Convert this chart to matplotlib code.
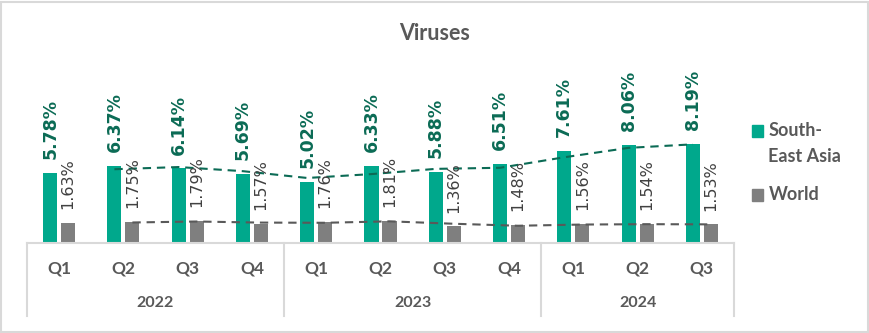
import numpy as np
from matplotlib import pyplot as plt
from matplotlib.patches import Rectangle
from matplotlib import transforms

quarters = ['Q1', 'Q2', 'Q3', 'Q4', 'Q1', 'Q2', 'Q3', 'Q4', 'Q1', 'Q2', 'Q3']
years = ['2022', '2023', '2024']
year_sizes = [4, 4, 3]
sea = [5.78, 6.37, 6.14, 5.69, 5.02, 6.33, 5.88, 6.51, 7.61, 8.06, 8.19]
world = [1.63, 1.75, 1.79, 1.57, 1.76, 1.81, 1.36, 1.48, 1.56, 1.54, 1.53]

sea_color = '#00A88C'
world_color = '#7F7F7F'
sea_text = '#0B6B55'
world_text = '#404040'
axis_text = '#595959'
grid_line = '#D9D9D9'


def moving_average(vals, n=2):
    """n-period moving average, starting at the n-th point"""
    return np.convolve(vals, np.ones(n) / n, mode='valid')


def main():
    W, H = 870, 333
    fig = plt.figure(figsize=(W / 100, H / 100), dpi=100)

    # plot area in pixel terms
    left, right, base, top = 27, 734, 243, 73
    ax = fig.add_axes([left / W, 1 - base / H, (right - left) / W, (base - top) / H])
    ax.set_xlim(-0.5, len(quarters) - 0.5)
    ax.set_ylim(0, 14)
    ax.axis('off')

    x = np.arange(len(quarters))
    bw, off = 0.218, 0.14
    ax.bar(x - off, sea, bw, color=sea_color, zorder=2)
    ax.bar(x + off, world, bw, color=world_color, zorder=2)

    # value labels, rotated above each bar
    for xi, v in zip(x - off, sea):
        ax.annotate(f'{v:.2f}%', (xi, v), xytext=(0, 10), textcoords='offset points',
                    rotation=90, ha='center', va='bottom', fontsize=12.5,
                    fontweight='bold', color=sea_text, family='DejaVu Sans', zorder=4)
    for xi, v in zip(x + off, world):
        ax.annotate(f'{v:.2f}%', (xi, v), xytext=(0, 10), textcoords='offset points',
                    rotation=90, ha='center', va='bottom', fontsize=11.5,
                    color=world_text, family='DejaVu Sans', zorder=4)

    # 2-period moving average trendlines
    ax.plot(x[1:] - off, moving_average(sea), color=sea_text, lw=1.5,
            dashes=(4, 2.8), zorder=3)
    ax.plot(x[1:] + off, moving_average(world), color='#595959', lw=1.5,
            dashes=(4, 2.8), zorder=3)

    # category axis drawn as a two-level table
    tr = transforms.blended_transform_factory(ax.transData, ax.transAxes)
    depth = -(316 - base) / (base - top)
    ax.plot([-0.5, len(quarters) - 0.5], [0, 0], color=grid_line, lw=1.5,
            transform=tr, clip_on=False)
    bounds = np.concatenate([[0], np.cumsum(year_sizes)]) - 0.5
    for b in bounds:
        ax.plot([b, b], [0, depth], color=grid_line, lw=1.5, transform=tr, clip_on=False)
    q_y = -(269 - base) / (base - top)
    y_y = -(303 - base) / (base - top)
    for xi, q in zip(x, quarters):
        ax.text(xi, q_y, q, transform=tr, ha='center', va='center', fontsize=12.5,
                fontweight='bold', color=axis_text, family='Lato')
    for i, yr in enumerate(years):
        ax.text((bounds[i] + bounds[i + 1]) / 2, y_y, yr, transform=tr, ha='center',
                va='center', fontsize=11.5, fontweight='bold', color=axis_text, family='Lato')

    # title
    fig.text(0.5, 1 - 33 / H, 'Viruses', ha='center', va='center', fontsize=15.5,
             fontweight='bold', color=axis_text, family='Lato')

    # legend
    def px(xp, yp):
        return xp / W, 1 - yp / H
    for y0, color in [(125, sea_color), (189, world_color)]:
        fig.patches.append(Rectangle(px(752, y0 + 12), 11 / W, 12 / H, color=color,
                                     transform=fig.transFigure))
    for yp, txt in [(131, 'South-'), (157, 'East Asia'), (194, 'World')]:
        fig.text(*px(768.5, yp), txt, ha='left', va='center', fontsize=13,
                 fontweight='bold', color=axis_text, family='Lato')

    # chart border
    fig.patches.append(Rectangle(px(1.5, 331.5), 867 / W, 330 / H, fill=False,
                                 edgecolor=grid_line, lw=1.5, transform=fig.transFigure))

    fig.savefig('out.png', dpi=100)


if __name__ == '__main__':
    main()
